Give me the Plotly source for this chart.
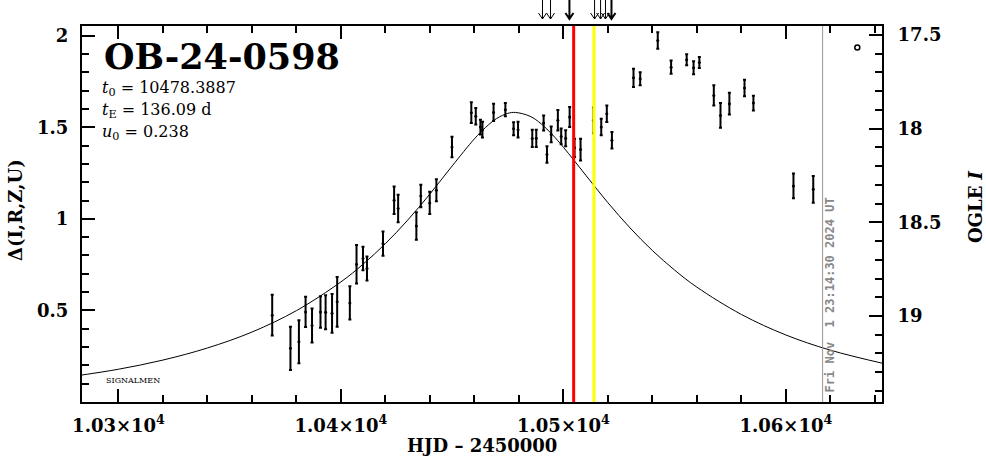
import plotly.graph_objects as go

# ---- data ----
t_obs = [10369.1, 10377.3, 10381.1, 10384.1, 10387.0, 10390.8, 10393.1, 10396.0, 10398.3, 10404.0,
         10407.0, 10409.9, 10411.7, 10418.9, 10423.9, 10425.7, 10433.9, 10435.9, 10439.9, 10442.9,
         10449.9, 10458.6, 10460.6, 10462.7, 10463.6, 10468.6, 10473.9, 10477.6, 10479.6, 10486.0,
         10487.8, 10491.1, 10492.6, 10494.5, 10497.5, 10499.0, 10501.0, 10502.8, 10505.0, 10507.7,
         10513.5, 10517.0, 10519.5, 10521.8, 10531.5, 10534.5, 10542.4, 10548.4, 10555.4, 10558.5,
         10561.1, 10567.6, 10570.6, 10574.6, 10581.4, 10585.4, 10603.4, 10612.3]
d_obs = [0.474, 0.293, 0.329, 0.492, 0.418, 0.492, 0.490, 0.484, 0.547, 0.541,
         0.752, 0.783, 0.729, 0.865, 1.101, 1.056, 0.961, 1.125, 1.087, 1.156,
         1.392, 1.580, 1.560, 1.501, 1.487, 1.581, 1.596, 1.492, 1.487, 1.439,
         1.440, 1.523, 1.352, 1.461, 1.538, 1.450, 1.440, 1.556, 1.388, 1.378,
         1.538, 1.501, 1.574, 1.429, 1.770, 1.765, 1.974, 1.828, 1.869, 1.825,
         1.854, 1.674, 1.565, 1.629, 1.714, 1.632, 1.180, 1.161]
e_obs = [0.111, 0.118, 0.118, 0.082, 0.093, 0.086, 0.093, 0.106, 0.136, 0.091,
         0.105, 0.064, 0.066, 0.066, 0.075, 0.075, 0.075, 0.061, 0.061, 0.060,
         0.056, 0.057, 0.045, 0.040, 0.043, 0.047, 0.036, 0.036, 0.043, 0.047,
         0.047, 0.041, 0.045, 0.043, 0.056, 0.043, 0.044, 0.055, 0.050, 0.060,
         0.070, 0.045, 0.045, 0.045, 0.050, 0.036, 0.045, 0.036, 0.030, 0.035,
         0.030, 0.055, 0.067, 0.059, 0.045, 0.040, 0.068, 0.073]

# model curve (PSPL)
model_t = [10280, 10300, 10320, 10340, 10360, 10380, 10400, 10410, 10420, 10430, 10440, 10450,
           10460, 10465, 10470, 10475, 10478.4, 10485, 10490, 10495, 10500, 10510, 10520, 10530,
           10540, 10550, 10560, 10580, 10600, 10620, 10645]
model_d = [0.141, 0.179, 0.229, 0.295, 0.382, 0.499, 0.656, 0.753, 0.865, 0.993, 1.136, 1.289,
           1.437, 1.499, 1.548, 1.576, 1.581, 1.560, 1.519, 1.460, 1.391, 1.239, 1.088, 0.950,
           0.827, 0.720, 0.627, 0.478, 0.366, 0.283, 0.207]

extra_t = [10632.1]
extra_d = [1.936]

arrow_times = [10490.6, 10494.2, 10502.7, 10514.0, 10516.7, 10518.9, 10521.6]
arrow_bold = [False, False, True, False, False, False, True]

red_time = 10504.6
yellow_time = 10513.7
now_time = 10616.5
now_label = "Fri Nov  1 23:14:30 2024 UT"

x_ticks = [10300, 10400, 10500, 10600]
x_ticktext = ["1.03×10<sup>4</sup>", "1.04×10<sup>4</sup>", "1.05×10<sup>4</sup>", "1.06×10<sup>4</sup>"]
y_ticks = [0.5, 1, 1.5, 2]
y_ticktext = ["0.5", "1", "1.5", "2"]
mag_ticks = [17.5, 18, 18.5, 19]
mag_ticktext = ["17.5", "18", "18.5", "19"]

event_name = "OB-24-0598"
param_lines = ["<i>t</i><sub>0</sub> = 10478.3887",
               "<i>t</i><sub>E</sub> = 136.09 d",
               "<i>u</i><sub>0</sub> = 0.238"]
x_title = "HJD – 2450000"
y_title = "Δ(I,R,Z,U)"
y2_title = "OGLE <i>I</i>"

X_RANGE = [10283.6, 10643.2]
Y_RANGE = [0.0, 2.053]
MAG_RANGE = [19.459, 17.452]

FONT = "DejaVu Serif"

fig = go.Figure()

fig.add_trace(go.Scatter(x=model_t, y=model_d, mode="lines",
                         line=dict(color="black", width=1, shape="spline"),
                         hoverinfo="skip", showlegend=False))

fig.add_trace(go.Scatter(x=t_obs, y=d_obs, mode="markers",
                         marker=dict(color="black", size=3),
                         error_y=dict(type="data", array=e_obs, color="black",
                                      thickness=2, width=1.5),
                         showlegend=False))

fig.add_trace(go.Scatter(x=extra_t, y=extra_d, mode="markers",
                         marker=dict(symbol="circle-open", color="black", size=5,
                                     line=dict(width=1.5)),
                         showlegend=False))

# dummy trace for right magnitude axis
fig.add_trace(go.Scatter(x=[X_RANGE[0]], y=[MAG_RANGE[0]], yaxis="y2", mode="markers",
                         marker=dict(opacity=0), hoverinfo="skip", showlegend=False))

# vertical lines
fig.add_shape(type="line", x0=now_time, x1=now_time, y0=0, y1=1, xref="x", yref="paper",
              line=dict(color="#999999", width=1))
fig.add_shape(type="line", x0=red_time, x1=red_time, y0=0, y1=1, xref="x", yref="paper",
              line=dict(color="#ff0000", width=3))
fig.add_shape(type="line", x0=yellow_time, x1=yellow_time, y0=0, y1=1, xref="x", yref="paper",
              line=dict(color="#ffff00", width=3))

# arrows above the frame (pixel-sized shapes anchored at each time)
for t, b in zip(arrow_times, arrow_bold):
    fig.add_shape(type="path", xref="x", yref="paper", xsizemode="pixel", ysizemode="pixel",
                  xanchor=t, yanchor=1.0186,
                  path="M0,0 L0,19 M-4,6 L0,0 L4,6",
                  line=dict(color="black", width=2 if b else 1))

annotations = []
annotations.append(dict(x=0.025, y=0.92, xref="paper", yref="paper", text=event_name,
                        showarrow=False, xanchor="left", yanchor="middle",
                        font=dict(family=FONT, size=35, color="black", weight="bold")))
for i, line in enumerate(param_lines):
    annotations.append(dict(x=0.023, y=0.835 - i * 0.0585, xref="paper", yref="paper",
                            text=line, showarrow=False, xanchor="left", yanchor="middle",
                            font=dict(family=FONT, size=16, color="black")))
annotations.append(dict(x=0.027, y=0.0585, xref="paper", yref="paper", text="SIGNALMEN",
                        showarrow=False, xanchor="left", yanchor="middle",
                        font=dict(family=FONT, size=8, color="black")))
annotations.append(dict(x=now_time, y=0.285, xref="x", yref="paper", text=now_label,
                        showarrow=False, textangle=-90, xshift=7, xanchor="center",
                        yanchor="middle",
                        font=dict(family="DejaVu Sans Mono", size=12, color="#888888",
                                  weight="bold")))
# axis titles
annotations.append(dict(x=0.5, y=-0.117, xref="paper", yref="paper", text=x_title,
                        showarrow=False, xanchor="center", yanchor="middle",
                        font=dict(family=FONT, size=18, color="black", weight="bold")))
annotations.append(dict(x=-0.084, y=0.51, xref="paper", yref="paper", text=y_title,
                        showarrow=False, textangle=-90, xanchor="center", yanchor="middle",
                        font=dict(family=FONT, size=18, color="black", weight="bold")))
annotations.append(dict(x=1.117, y=0.52, xref="paper", yref="paper", text=y2_title,
                        showarrow=False, textangle=-90, xanchor="center", yanchor="middle",
                        font=dict(family=FONT, size=18, color="black", weight="bold")))

tickfont = dict(family=FONT, size=18, color="black", weight="bold")
fig.update_layout(
    width=986, height=459,
    margin=dict(l=82, r=104, t=26, b=57),
    paper_bgcolor="white", plot_bgcolor="white",
    showlegend=False,
    annotations=annotations,
    xaxis=dict(range=X_RANGE, tickvals=x_ticks, ticktext=x_ticktext, ticks="inside",
               ticklen=13, tickwidth=2, tickcolor="black", showline=True, linewidth=2,
               linecolor="black", mirror="ticks", showgrid=False, zeroline=False,
               tickfont=tickfont, ticklabelstandoff=6, automargin=False,
               minor=dict(dtick=20, tick0=10300, ticks="inside", ticklen=7, tickwidth=2,
                          tickcolor="black", showgrid=False)),
    yaxis=dict(range=Y_RANGE, tickvals=y_ticks, ticktext=y_ticktext, ticks="inside",
               ticklen=13, tickwidth=2, tickcolor="black", showline=True, linewidth=2,
               linecolor="black", mirror=True, showgrid=False, zeroline=False,
               tickfont=tickfont, ticklabelstandoff=8, automargin=False,
               minor=dict(dtick=0.1, tick0=0, ticks="inside", ticklen=7, tickwidth=2,
                          tickcolor="black", showgrid=False)),
    yaxis2=dict(overlaying="y", side="right", anchor="x", range=MAG_RANGE,
                tickvals=mag_ticks, ticktext=mag_ticktext, ticks="inside", ticklen=13,
                tickwidth=2, tickcolor="black", showline=True, linewidth=2, linecolor="black",
                showgrid=False, zeroline=False, tickfont=tickfont, ticklabelstandoff=10,
                automargin=False,
                minor=dict(dtick=0.1, tick0=17.5, ticks="inside", ticklen=7, tickwidth=2,
                           tickcolor="black", showgrid=False)),
)

fig.write_html("out.html", config={"displayModeBar": False},
               post_script="document.body.style.margin='0';document.body.style.padding='0';")
